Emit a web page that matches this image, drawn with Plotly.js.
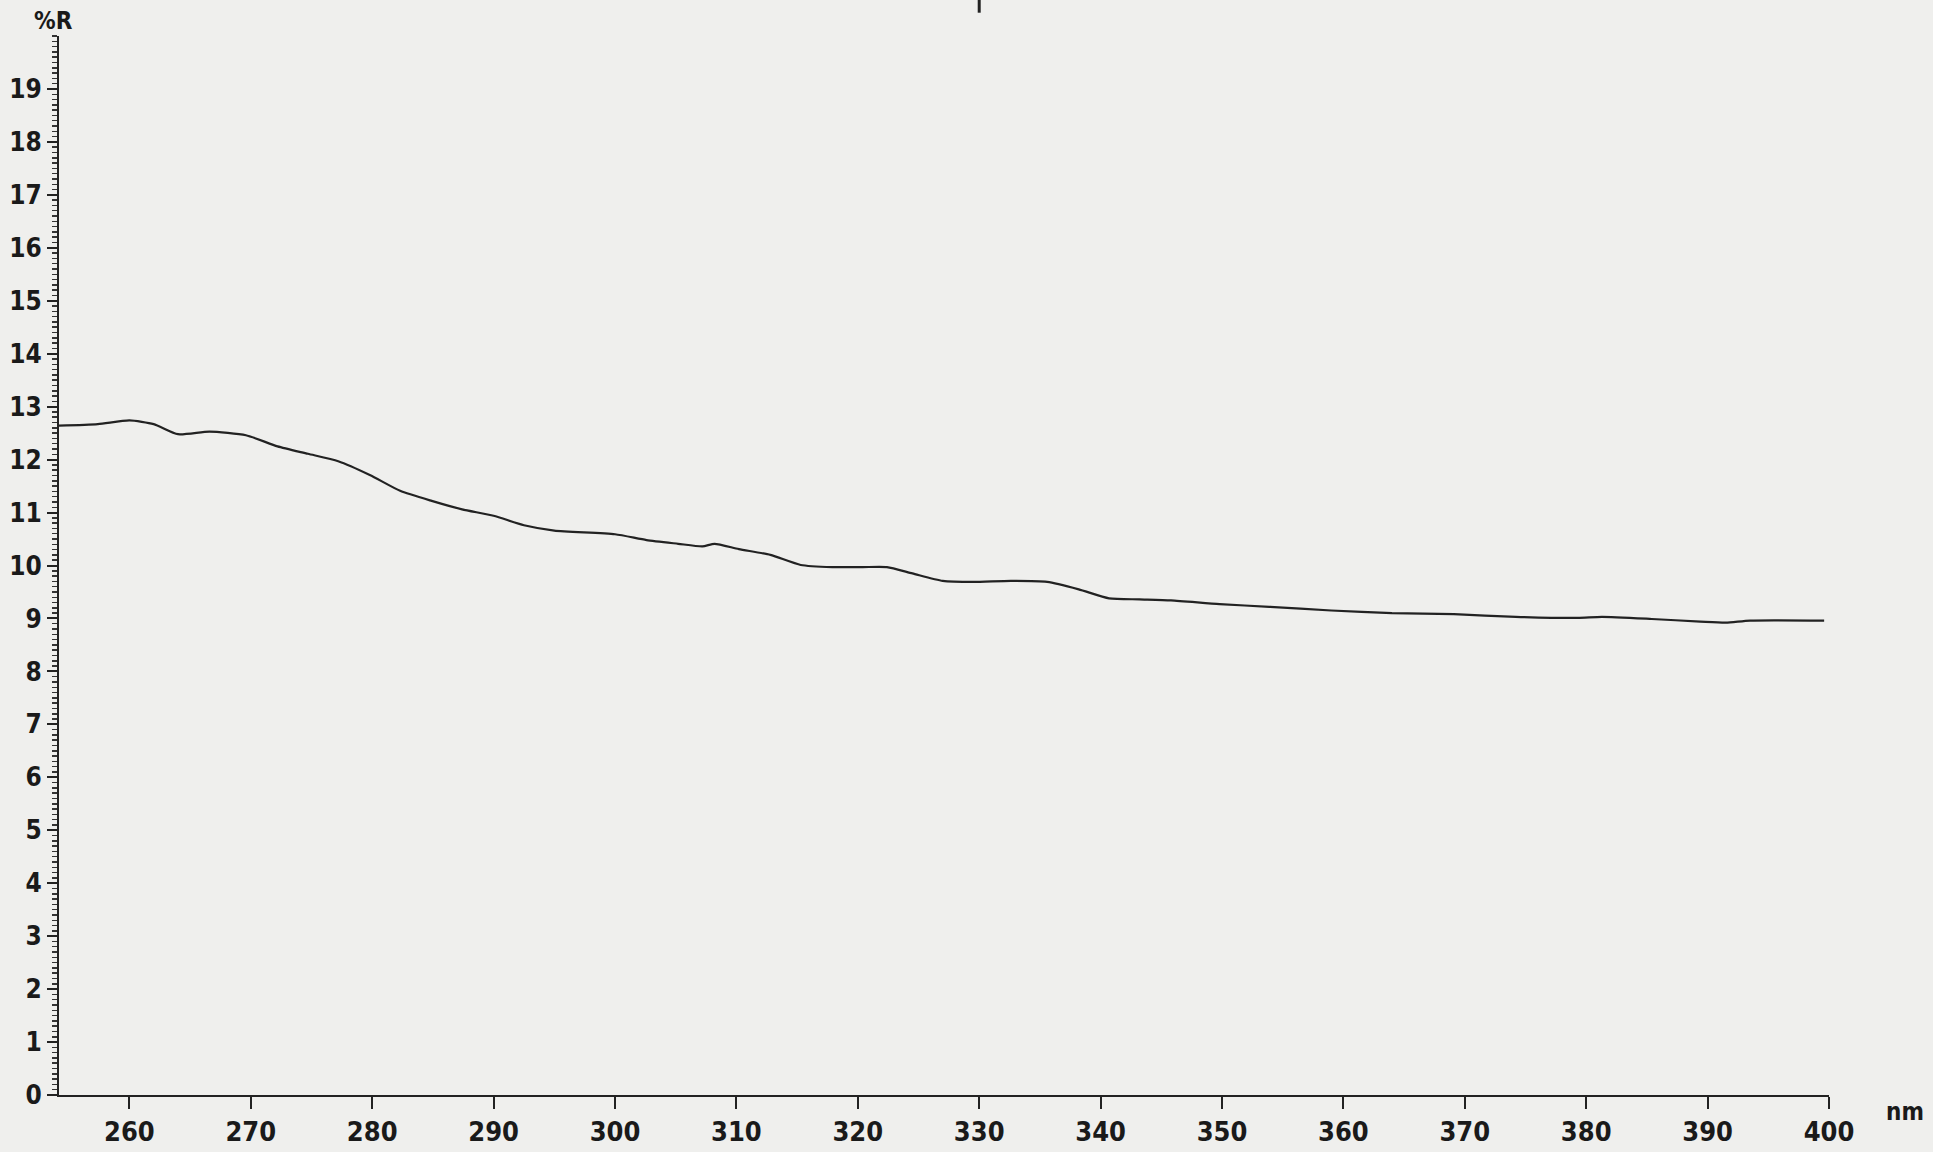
<!DOCTYPE html>
<html>
<head>
<meta charset="utf-8">
<script src="https://cdn.plot.ly/plotly-3.0.1.min.js"></script>
<style>
html,body{margin:0;padding:0;background:#efefed;}
#chart{width:1933px;height:1152px;}
</style>
</head>
<body>
<div id="chart"></div>
<script>
// Wavelength (nm) and reflectance (%R)
const wavelength = [254.2, 257.4, 260.0, 262.0, 264.0, 266.6, 269.6, 272.2, 274.7, 277.2, 279.8, 282.3, 284.9, 287.4, 290.0, 292.5, 295.0, 300.0, 302.6, 305.2, 307.2, 308.2, 310.2, 312.8, 315.3, 317.9, 320.4, 322.4, 324.5, 327.0, 329.5, 332.6, 335.6, 338.2, 340.7, 343.2, 345.8, 349.8, 353.9, 359.0, 364.0, 369.1, 374.2, 379.3, 381.3, 385.4, 389.4, 391.5, 393.5, 399.6];
const reflectance = [12.64, 12.67, 12.74, 12.67, 12.48, 12.53, 12.46, 12.25, 12.11, 11.97, 11.71, 11.41, 11.22, 11.06, 10.94, 10.76, 10.66, 10.59, 10.48, 10.41, 10.36, 10.41, 10.31, 10.20, 10.01, 9.97, 9.97, 9.97, 9.85, 9.71, 9.69, 9.71, 9.69, 9.55, 9.38, 9.36, 9.34, 9.27, 9.22, 9.15, 9.10, 9.08, 9.03, 9.01, 9.03, 8.99, 8.94, 8.92, 8.96, 8.96];
const xTicks = [260, 270, 280, 290, 300, 310, 320, 330, 340, 350, 360, 370, 380, 390, 400];
const yTicks = [0, 1, 2, 3, 4, 5, 6, 7, 8, 9, 10, 11, 12, 13, 14, 15, 16, 17, 18, 19];
const xRange = [254.2, 400];
const yRange = [0, 20];
const topMarkX = 330;

const fam = '"DejaVu Sans Condensed", "Liberation Sans Narrow", "Liberation Sans", sans-serif';
const tickFont = {family: fam, size: 27, color: '#1a1a1a', weight: 'bold'};

const trace = {
  x: wavelength,
  y: reflectance,
  type: 'scatter',
  mode: 'lines',
  line: {color: '#222222', width: 2.2, shape: 'spline', smoothing: 0.6},
  showlegend: false,
  hoverinfo: 'x+y'
};

const layout = {
  width: 1933,
  height: 1152,
  margin: {l: 59, r: 104, t: 36, b: 57, pad: 0},
  paper_bgcolor: '#efefed',
  plot_bgcolor: '#efefed',
  showlegend: false,
  xaxis: {
    range: xRange,
    tickmode: 'array',
    tickvals: xTicks,
    ticktext: xTicks.map(String),
    ticks: 'outside',
    ticklen: 12,
    tickwidth: 2,
    tickcolor: '#222',
    showline: true,
    linecolor: '#222',
    linewidth: 2,
    showgrid: false,
    zeroline: false,
    tickfont: tickFont,
    fixedrange: true
  },
  yaxis: {
    range: yRange,
    tickmode: 'array',
    tickvals: yTicks,
    ticktext: yTicks.map(String),
    ticks: 'outside',
    ticklen: 10,
    tickwidth: 2,
    tickcolor: '#222',
    showline: true,
    linecolor: '#222',
    linewidth: 2,
    showgrid: false,
    zeroline: false,
    ticklabelstandoff: 0,
    tickfont: {family: fam, size: 26, color: '#1a1a1a', weight: 'bold'},
    minor: {tickmode: 'linear', tick0: 0, dtick: 0.1, ticks: 'outside', ticklen: 5, tickwidth: 1.5, tickcolor: '#333', showgrid: false},
    fixedrange: true
  },
  annotations: [
    {text: '%R', xref: 'paper', yref: 'paper', x: 0, y: 1, xanchor: 'center', yanchor: 'middle',
     xshift: -6, yshift: 15, showarrow: false,
     font: {family: fam, size: 24, color: '#1a1a1a', weight: 'bold'}},
    {text: 'nm', xref: 'paper', yref: 'paper', x: 1, y: 0, xanchor: 'center', yanchor: 'middle',
     xshift: 76, yshift: -17, showarrow: false,
     font: {family: fam, size: 24, color: '#1a1a1a', weight: 'bold'}}
  ],
  shapes: [
    {type: 'line', xref: 'x', yref: 'paper', x0: topMarkX, x1: topMarkX, y0: 1.022, y1: 1.04,
     line: {color: '#222', width: 3}}
  ]
};

Plotly.newPlot('chart', [trace], layout, {displayModeBar: false, staticPlot: true});
</script>
</body>
</html>
